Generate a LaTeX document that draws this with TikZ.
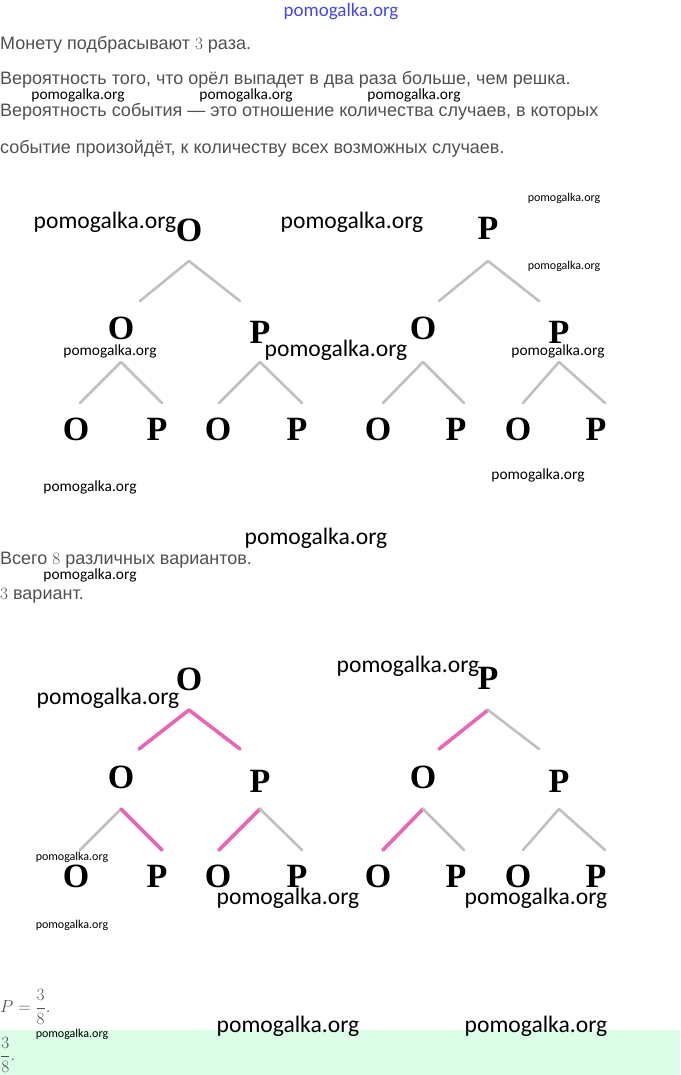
\documentclass[tikz,border=0pt]{standalone}
\usepackage{amsmath}
\usepackage{fontspec}
\setmainfont{Liberation Sans}
\newfontfamily\wmfont{Carlito}
\newfontfamily\coinfont{Liberation Serif}
\definecolor{txtgray}{RGB}{80,80,80}
\definecolor{branchgray}{RGB}{192,192,192}
\definecolor{hotpink}{RGB}{233,102,181}
\definecolor{mint}{RGB}{220,253,231}
\definecolor{wmblue}{RGB}{70,70,225}
% fork under a coin: node, drop, left, right, height, left style, right style
\newcommand\fork[7]{%
	\draw[#6] ([yshift=-#2pt]#1.center) -- +(-#3,#5);
	\draw[#7] ([yshift=-#2pt]#1.center) -- +(#4,#5);}
\begin{document}
\begin{tikzpicture}[x=1pt,y=-1pt,line cap=round,line join=round,
	txt/.style={anchor=base west,inner sep=0,text=txtgray,font=\fontsize{18}{21}\selectfont},
	coin/.style={inner sep=0,font=\coinfont\bfseries\fontsize{34}{34}\selectfont},
	gl/.style={draw=branchgray,line width=2.6pt},
	pl/.style={draw=hotpink,line width=3.6pt},
	wm/.style={inner sep=0,font=\wmfont\fontsize{#1}{#1}\selectfont},
	wm/.default=15.4]
	\useasboundingbox (0,0) rectangle (680,1075);
	\fill[mint] (0,1030) rectangle (680,1075);

	\node[txt] (l1) at (0,50) {Монету подбрасывают $3$ раза.};
	\node[txt] (l2) at (0,85) {Вероятность того, что орёл выпадет в два раза больше, чем решка.};
	\node[txt] (l3) at (0,117) {Вероятность события — это отношение количества случаев, в которых};
	\node[txt] (l4) at (0,154) {событие произойдёт, к количеству всех возможных случаев.};

	% all outcomes
	\node[coin] (ao) at (189,230) {О};
	\node[coin] (ap) at (488,228) {Р};
	\node[coin] (aoo) at (121,328) {О};
	\node[coin] (aop) at (260,332) {Р};
	\node[coin] (apo) at (423,328) {О};
	\node[coin] (app) at (559,332) {Р};
	\foreach \x/\s [count=\i] in {76/О,157/Р,218/О,297/Р,378/О,456/Р,518/О,596/Р}
		\node[coin] (a\i) at (\x,429) {\s};
	\fork{ao}{31}{49}{51}{40}{gl}{gl}
	\fork{ap}{33}{49}{51}{40}{gl}{gl}
	\fork{aoo}{34}{41}{41}{41}{gl}{gl}
	\fork{aop}{30}{41}{42}{41}{gl}{gl}
	\fork{apo}{34}{40}{41}{41}{gl}{gl}
	\fork{app}{30}{36}{46}{41}{gl}{gl}

	\node[txt] (l5) at (0,564) {Всего $8$ различных вариантов.};
	\node[txt] (l6) at (0,599) {$3$ вариант.};

	% chosen outcomes
	\node[coin] (bo) at (189,679) {О};
	\node[coin] (bp) at (488,678) {Р};
	\node[coin] (boo) at (121,777) {О};
	\node[coin] (bop) at (260,781) {Р};
	\node[coin] (bpo) at (423,777) {О};
	\node[coin] (bpp) at (559,781) {Р};
	\foreach \x/\s [count=\i] in {76/О,157/Р,218/О,297/Р,378/О,456/Р,518/О,596/Р}
		\node[coin] (b\i) at (\x,876) {\s};
	\fork{bo}{31}{50}{51}{39}{pl}{pl}
	\fork{bp}{32}{49}{51}{39}{pl}{gl}
	\fork{boo}{32}{41}{41}{41}{gl}{pl}
	\fork{bop}{28}{41}{42}{41}{pl}{gl}
	\fork{bpo}{32}{40}{41}{41}{pl}{gl}
	\fork{bpp}{28}{36}{46}{41}{gl}{gl}

	\node[txt,anchor=west,font=\fontsize{19}{22}\selectfont] (pf) at (0,1007) {$P=\dfrac{3}{8}.$};
	\node[txt,anchor=west,font=\fontsize{19}{22}\selectfont] (ans) at (0,1055) {$\dfrac{3}{8}.$};

	% watermarks
	\node[wm=19,text=wmblue] (w0) at (341,12) {pomogalka.org};
	\foreach \x/\y/\s [count=\i] in {78/95/15.4,246/95/15.4,414/95/15.4,
		105/222/23.6,352/222/23.6,564/198/12,564/266/12,110/351/15.4,336/350/23.6,
		558/351/15.4,538/475/15.4,90/487/15.4,316/538/23.6,90/575/15.4,
		408/666/23.6,108/698/23.6,72/857/12,288/898/23.6,536/898/23.6,72/925/12,
		288/1026/23.6,536/1026/23.6,72/1034/12}
		\node[wm=\s] (w\i) at (\x,\y) {pomogalka.org};
\end{tikzpicture}
\end{document}
